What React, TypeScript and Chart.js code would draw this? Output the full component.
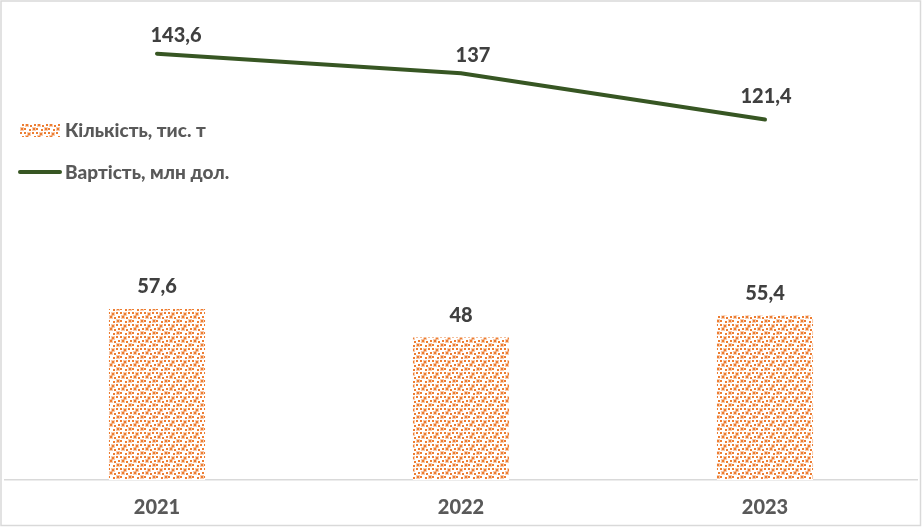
import React, { useEffect, useRef } from "react";
import { Chart, registerables } from "chart.js";

Chart.register(...registerables);

const categories = ["2021", "2022", "2023"];
const quantityValues = [57.6, 48, 55.4];
const costValues = [143.6, 137, 121.4];
const quantityLabel = "Кількість, тис. т";
const costLabel = "Вартість, млн дол.";

const ORANGE = "#ED7D31";
const GREEN = "#375623";
const TEXT = "#404040";
const FONT = "Lato, 'Open Sans', sans-serif";

function makePattern(): CanvasPattern | string {
  const c = document.createElement("canvas");
  c.width = 12;
  c.height = 12;
  const ctx = c.getContext("2d");
  if (!ctx) return ORANGE;
  ctx.fillStyle = "#ffffff";
  ctx.fillRect(0, 0, 12, 12);
  const dots = [
    [0, 0], [4, 1], [8, 0],
    [2, 4], [6, 5], [10, 4],
    [0, 8], [5, 9], [9, 8],
  ];
  ctx.fillStyle = "rgba(237,125,49,0.4)";
  [[4, 1], [9, 8], [2, 4]].forEach(([x, y]) => ctx.fillRect(x - 1, y - 1, 4, 4));
  ctx.fillStyle = ORANGE;
  dots.forEach(([x, y]) => ctx.fillRect(x, y, 2, 2));
  const p = ctx.createPattern(c, "repeat");
  return p || ORANGE;
}

const fmt = (v: number) => String(v).replace(".", ",");

const lineLabelOffsets = [
  [19, -18],
  [12, -18],
  [1, -23],
];

export default function App() {
  const ref = useRef<HTMLCanvasElement | null>(null);
  useEffect(() => {
    if (!ref.current) return;
    const pattern = makePattern();

    const bgPlugin = {
      id: "bg",
      beforeDraw(chart: any) {
        const ctx = chart.ctx;
        ctx.save();
        ctx.fillStyle = "#fff";
        ctx.fillRect(0, 0, chart.width, chart.height);
        ctx.restore();
      },
      afterDraw(chart: any) {
        const ctx = chart.ctx;
        ctx.save();
        ctx.strokeStyle = "#d9d9d9";
        ctx.lineWidth = 1.5;
        ctx.strokeRect(1, 1, chart.width - 2.5, chart.height - 2.5);
        ctx.restore();
      },
    };

    const labelsPlugin = {
      id: "valLabels",
      afterDatasetsDraw(chart: any) {
        const ctx = chart.ctx;
        ctx.save();
        ctx.font = `900 20px ${FONT}`;
        ctx.fillStyle = TEXT;
        ctx.textAlign = "center";
        ctx.textBaseline = "middle";
        const barMeta = chart.getDatasetMeta(0);
        barMeta.data.forEach((el: any, i: number) => {
          ctx.fillText(fmt(quantityValues[i]), el.x, el.y - 22);
        });
        const lineMeta = chart.getDatasetMeta(1);
        lineMeta.data.forEach((el: any, i: number) => {
          const [dx, dy] = lineLabelOffsets[i];
          ctx.fillText(fmt(costValues[i]), el.x + dx, el.y + dy);
        });
        // legend
        ctx.textAlign = "left";
        ctx.font = `900 19px ${FONT}`;
        ctx.fillStyle = pattern as any;
        ctx.fillRect(20, 124, 40, 13);
        ctx.fillStyle = "#595959";
        ctx.fillText(quantityLabel, 65, 131);
        ctx.strokeStyle = GREEN;
        ctx.lineWidth = 4;
        ctx.lineCap = "round";
        ctx.beginPath();
        ctx.moveTo(20, 172);
        ctx.lineTo(60, 172);
        ctx.stroke();
        ctx.fillText(costLabel, 65, 173);
        ctx.restore();
      },
    };

    const chart = new Chart(ref.current, {
      type: "bar",
      data: {
        labels: categories,
        datasets: [
          {
            type: "bar",
            label: quantityLabel,
            data: quantityValues,
            backgroundColor: pattern as any,
            borderWidth: 0,
            barPercentage: 0.316,
            categoryPercentage: 1,
            order: 2,
          },
          {
            type: "line",
            label: costLabel,
            data: costValues,
            borderColor: GREEN,
            borderWidth: 4,
            borderCapStyle: "round",
            pointRadius: 0,
            tension: 0,
            order: 1,
          } as any,
        ],
      },
      options: {
        responsive: false,
        animation: false,
        layout: { padding: { top: 5, left: 5, right: 5, bottom: 0 } },
        plugins: {
          legend: { display: false },
          tooltip: { enabled: false },
        },
        scales: {
          x: {
            grid: { display: false, drawTicks: false },
            border: { display: true, color: "#d9d9d9", width: 1.5 },
            ticks: {
              color: "#595959",
              font: { family: FONT, size: 20, weight: "900" },
              padding: 16,
            },
            afterFit: (scale: any) => {
              scale.height = 47;
            },
          },
          y: {
            display: false,
            min: 0,
            max: 160,
          },
        },
      },
      plugins: [bgPlugin, labelsPlugin],
    });
    return () => chart.destroy();
  }, []);

  return (
    <div style={{ position: "absolute", left: 0, top: 0, width: 922, height: 527 }}>
      <canvas ref={ref} width={922} height={527} />
    </div>
  );
}
